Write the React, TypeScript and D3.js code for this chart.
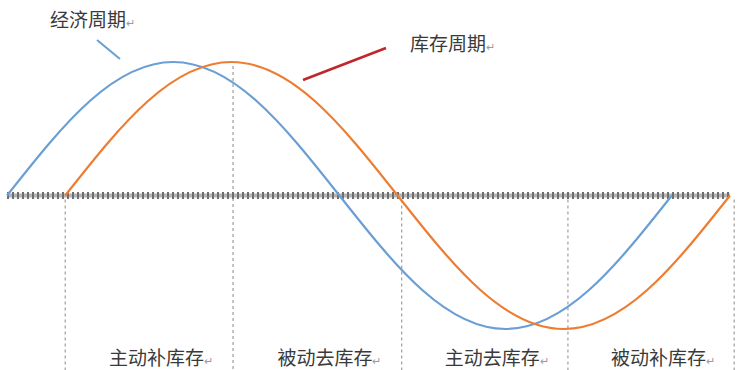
import React from 'react';
import * as d3 from 'd3';

// phase positions in eighths of a cycle
const economyX = [0, 1, 2, 3, 4, 5, 6, 7, 8];
const economyCycle = [0, 0.71, 1, 0.71, 0, -0.71, -1, -0.71, 0];
const inventoryX = [0.7, 1.7, 2.7, 3.7, 4.7, 5.7, 6.7, 7.7, 8.7];
const inventoryCycle = [0, 0.71, 1, 0.71, 0, -0.71, -1, -0.71, 0];

// dashed stage boundaries (x) and the value each one starts from
const stageBounds = [0.7, 2.72, 4.75, 6.75, 8.75];
const stageBoundTop = [0, 1, 0, 0, 0];
const stageLabels = ['主动补库存', '被动去库存', '主动去库存', '被动补库存'];

const W = 744;
const H = 370;
const FONT = '"Noto Sans CJK SC", "Noto Sans", sans-serif';
const BLUE = '#6a9fd6';
const ORANGE = '#ed7d31';

export default function App() {
  const x = d3.scaleLinear().domain([0, 8.7]).range([7, 730]);
  const y = d3.scaleLinear().domain([-1, 1]).range([329, 62]);

  const line = d3
    .line<[number, number]>()
    .x(d => x(d[0]))
    .y(d => y(d[1]))
    .curve(d3.curveNatural);

  const econPath = line(economyX.map((v, i) => [v, economyCycle[i]]) as [number, number][]) || '';
  const invPath = line(inventoryX.map((v, i) => [v, inventoryCycle[i]]) as [number, number][]) || '';

  const mark = (s: string) => (
    <>
      {s}
      <tspan fontSize={11} fill="#999">↵</tspan>
    </>
  );

  return (
    <svg
      width={W}
      height={H}
      style={{ position: 'fixed', left: 0, top: 0, display: 'block', background: '#fff' }}
      fontFamily={FONT}
    >
      {/* stage boundaries */}
      {stageBounds.map((b, i) => (
        <line
          key={'b' + i}
          x1={x(b)}
          x2={x(b)}
          y1={y(stageBoundTop[i]) + 4}
          y2={H}
          stroke="#8a8a8a"
          strokeWidth={1}
          strokeDasharray="3,3"
        />
      ))}

      {/* hatched axis */}
      <line x1={x(0)} x2={x(8.7)} y1={y(0)} y2={y(0)} stroke="#b5b5b5" strokeWidth={4} />
      <line
        x1={x(0)}
        x2={x(8.7)}
        y1={y(0)}
        y2={y(0)}
        stroke="#6e6e6e"
        strokeWidth={7}
        strokeDasharray="2,3"
      />

      <path d={econPath} fill="none" stroke={BLUE} strokeWidth={2.2} />
      <path d={invPath} fill="none" stroke={ORANGE} strokeWidth={2.2} />

      {/* callouts */}
      <text x={50} y={27} fontSize={19} fill="#3a3a3a">{mark('经济周期')}</text>
      <line x1={97} y1={40} x2={120} y2={59} stroke={BLUE} strokeWidth={2} />
      <text x={410} y={51} fontSize={19} fill="#3a3a3a">{mark('库存周期')}</text>
      <line x1={303} y1={80} x2={386} y2={48} stroke="#c0262d" strokeWidth={2.5} />

      {stageLabels.map((s, i) => (
        <text
          key={'l' + i}
          x={(x(stageBounds[i]) + x(stageBounds[i + 1])) / 2 + 12}
          y={365}
          fontSize={19}
          fill="#3a3a3a"
          textAnchor="middle"
        >
          {mark(s)}
        </text>
      ))}
    </svg>
  );
}
